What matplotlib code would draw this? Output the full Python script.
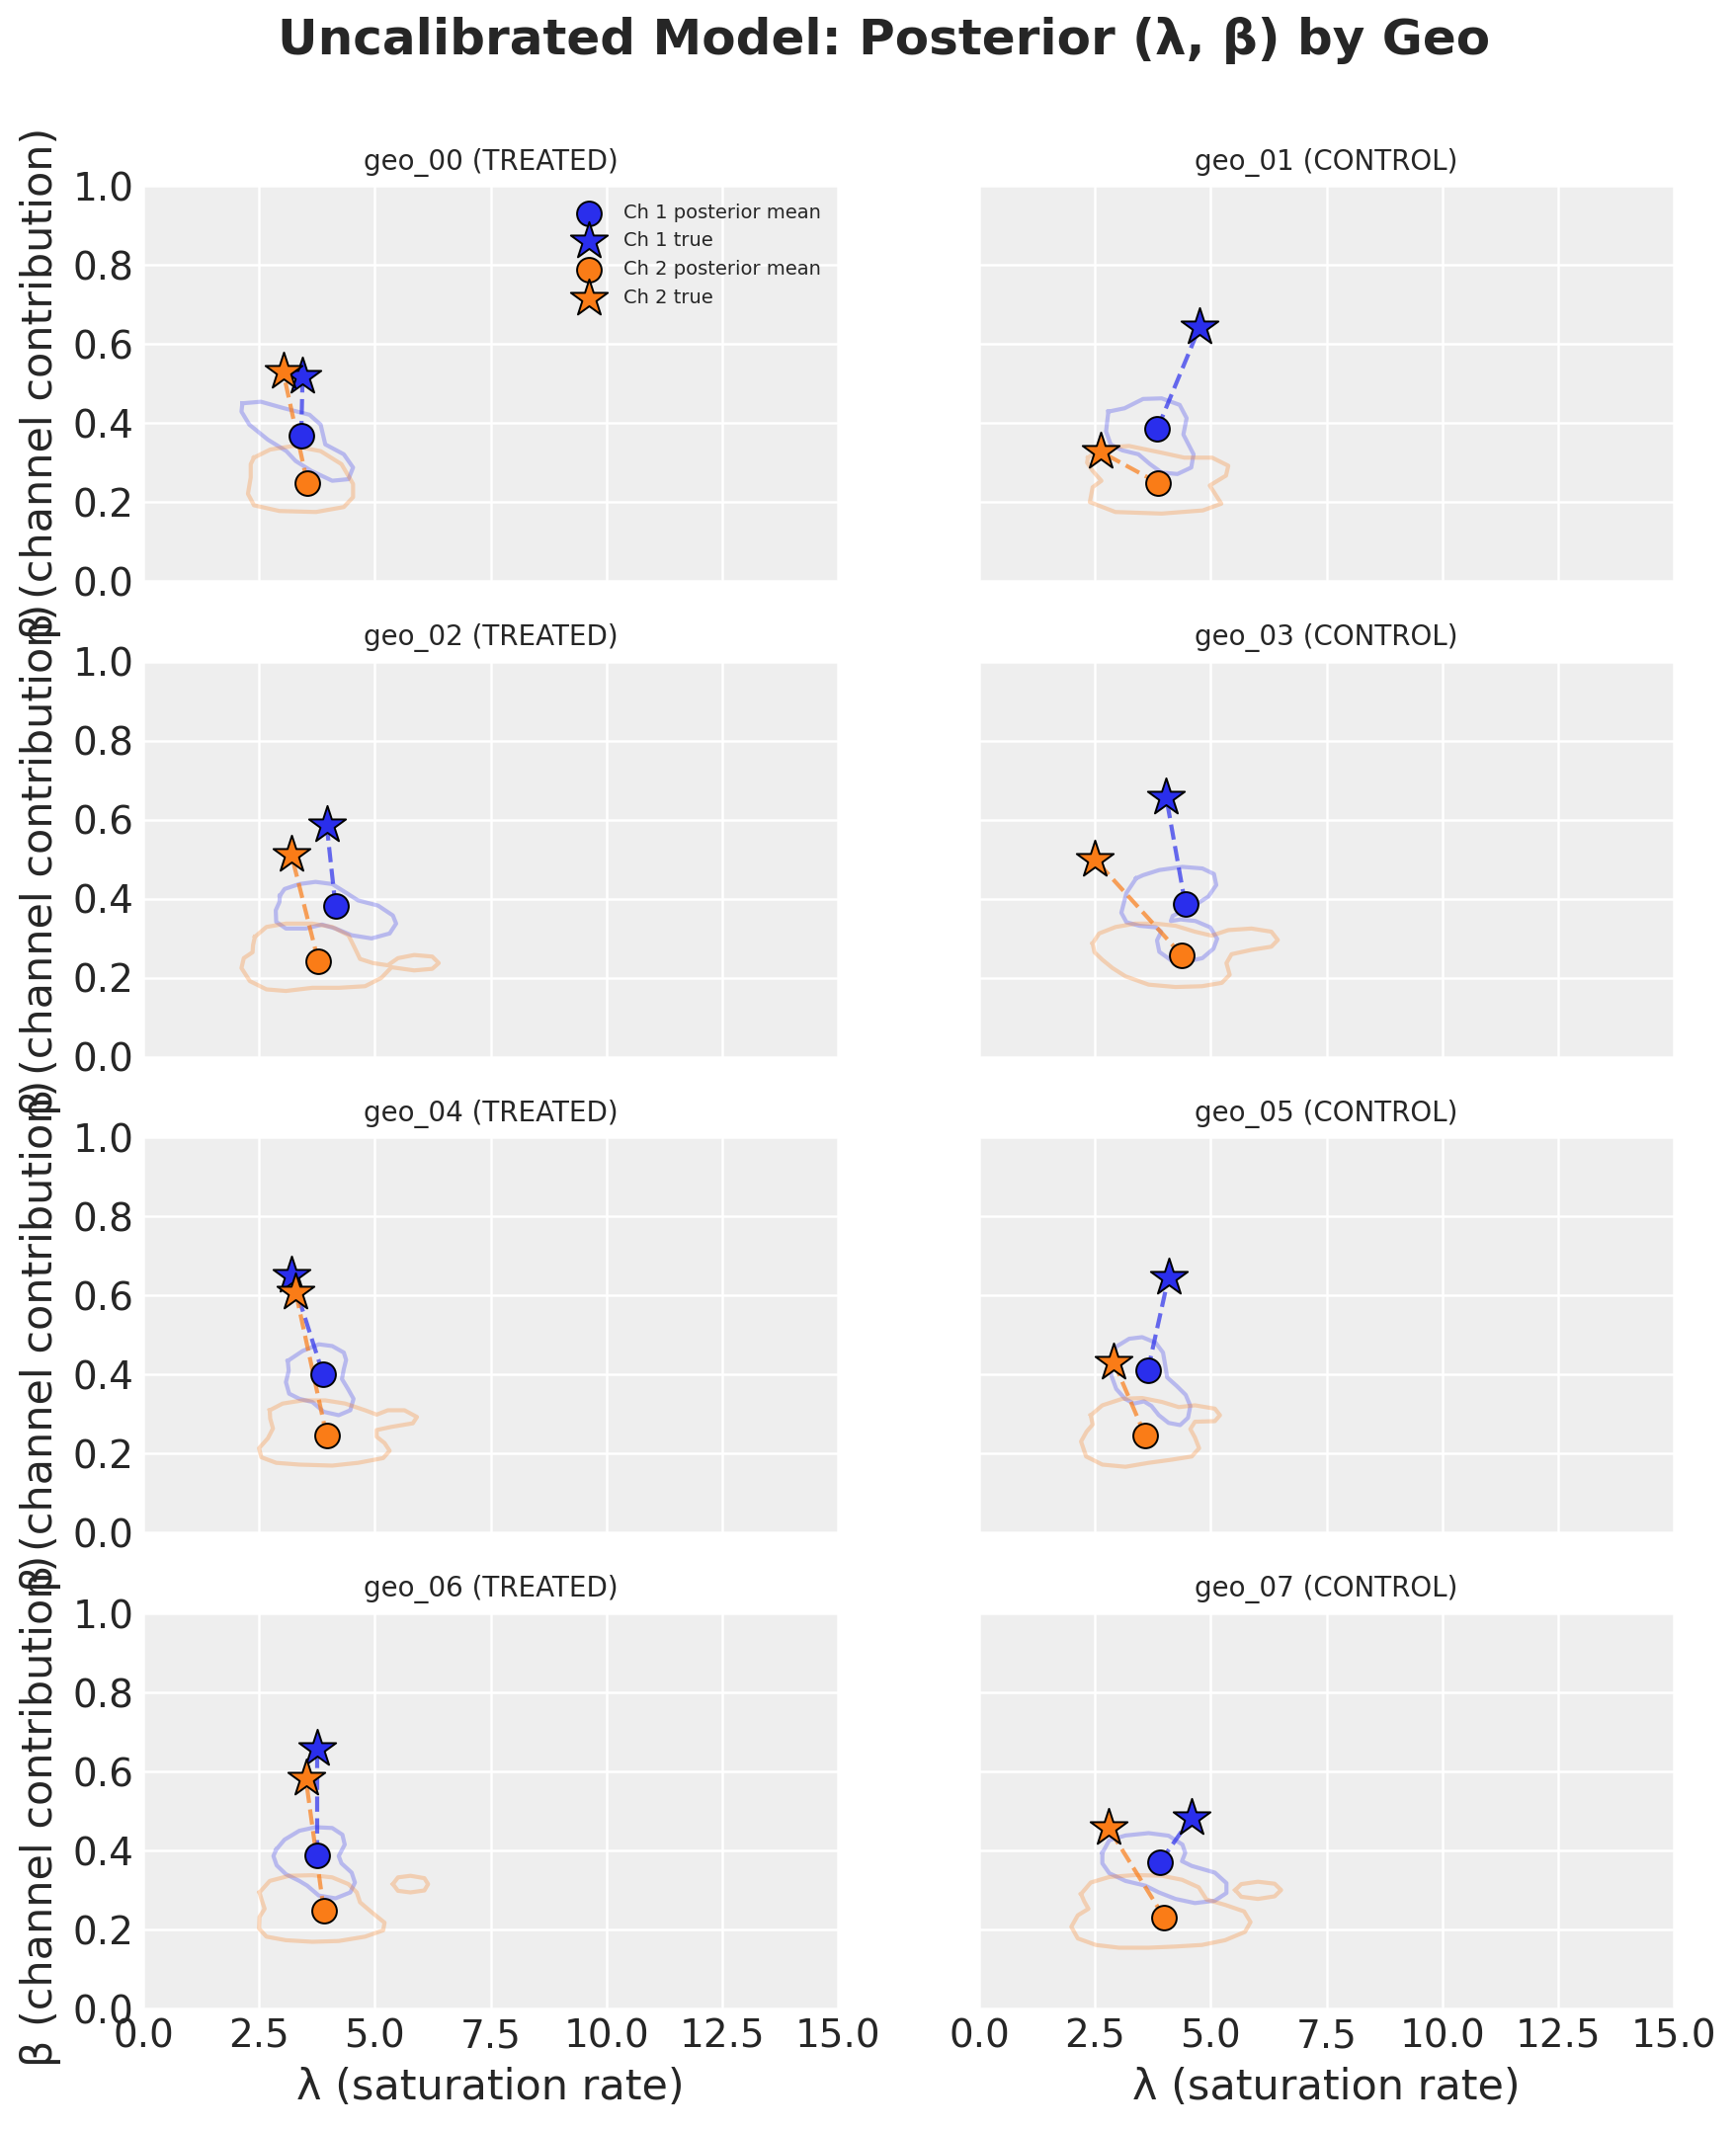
import matplotlib
matplotlib.use("Agg")
import matplotlib.pyplot as plt
import numpy as np

# ---------------- data ----------------
geo_names = ["geo_00", "geo_01", "geo_02", "geo_03", "geo_04", "geo_05", "geo_06", "geo_07"]
geo_groups = ["TREATED", "CONTROL", "TREATED", "CONTROL", "TREATED", "CONTROL", "TREATED", "CONTROL"]

ch1_mean_lam = [3.41, 3.85, 4.15, 4.45, 3.88, 3.64, 3.75, 3.91]
ch1_mean_beta = [0.367, 0.386, 0.383, 0.387, 0.402, 0.410, 0.387, 0.371]
ch1_true_lam = [3.44, 4.76, 3.96, 4.04, 3.20, 4.09, 3.75, 4.58]
ch1_true_beta = [0.517, 0.643, 0.587, 0.657, 0.651, 0.647, 0.658, 0.483]

ch2_mean_lam = [3.54, 3.87, 3.78, 4.38, 3.96, 3.59, 3.90, 4.00]
ch2_mean_beta = [0.249, 0.248, 0.242, 0.257, 0.245, 0.245, 0.247, 0.230]
ch2_true_lam = [3.02, 2.63, 3.20, 2.50, 3.29, 2.91, 3.51, 2.79]
ch2_true_beta = [0.530, 0.327, 0.511, 0.500, 0.609, 0.431, 0.582, 0.458]

# posterior density contour outlines (lambda, beta)
ch1_contours = [
    [[(2.14, 0.45), (2.54, 0.454), (3.04, 0.4375), (3.59, 0.421), (3.83, 0.396), (3.93, 0.346),
      (4.33, 0.321), (4.53, 0.2875), (4.43, 0.258), (4.08, 0.254), (3.63, 0.279), (3.29, 0.304),
      (3.09, 0.329), (2.69, 0.358), (2.29, 0.396), (2.12, 0.429)]],
    [[(2.79, 0.429), (3.14, 0.4375), (3.54, 0.461), (3.94, 0.4625), (4.33, 0.446), (4.48, 0.4125),
      (4.41, 0.371), (4.63, 0.321), (4.58, 0.2875), (4.28, 0.271), (3.94, 0.275), (3.69, 0.296),
      (3.44, 0.321), (3.09, 0.331), (2.84, 0.346), (2.74, 0.379)]],
    [[(2.95, 0.408), (3.05, 0.425), (3.37, 0.4375), (3.72, 0.443), (4.08, 0.4375), (4.36, 0.417),
      (4.64, 0.396), (5.07, 0.383), (5.39, 0.358), (5.46, 0.3375), (5.32, 0.3125), (4.93, 0.300),
      (4.50, 0.308), (4.15, 0.325), (3.86, 0.335), (3.51, 0.325), (3.08, 0.325), (2.87, 0.342),
      (2.86, 0.371), (2.94, 0.392)]],
    [[(3.39, 0.452), (3.18, 0.415), (3.07, 0.365), (3.18, 0.341), (3.46, 0.332), (3.82, 0.328),
      (3.93, 0.317), (3.84, 0.295), (3.89, 0.266), (4.14, 0.245), (4.46, 0.241), (4.82, 0.250),
      (5.06, 0.274), (5.14, 0.299), (4.99, 0.328), (4.67, 0.344), (4.35, 0.348), (4.14, 0.344),
      (4.18, 0.357), (4.46, 0.373), (4.74, 0.390), (4.95, 0.406), (5.12, 0.435), (5.07, 0.463),
      (4.82, 0.477), (4.39, 0.481), (3.89, 0.473), (3.54, 0.460)]],
    [[(3.12, 0.435), (3.44, 0.46), (3.79, 0.477), (4.08, 0.4725), (4.33, 0.456), (4.38, 0.4375),
      (4.33, 0.414), (4.29, 0.389), (4.42, 0.364), (4.54, 0.339), (4.47, 0.31), (4.22, 0.2975),
      (3.90, 0.306), (3.65, 0.331), (3.37, 0.339), (3.15, 0.352), (3.08, 0.381), (3.14, 0.41)]],
    [[(2.81, 0.4225), (2.96, 0.471), (3.24, 0.491), (3.52, 0.495), (3.81, 0.481), (3.97, 0.456),
      (4.02, 0.4225), (4.06, 0.393), (4.27, 0.371), (4.46, 0.349), (4.56, 0.321), (4.51, 0.291),
      (4.34, 0.2725), (4.09, 0.278), (3.88, 0.2975), (3.72, 0.321), (3.56, 0.3325), (3.34, 0.327),
      (3.15, 0.339), (2.96, 0.364), (2.86, 0.396)]],
    [[(2.87, 0.4025), (3.05, 0.4275), (3.37, 0.45), (3.72, 0.459), (4.08, 0.457), (4.30, 0.44),
      (4.35, 0.415), (4.22, 0.386), (4.28, 0.3675), (4.50, 0.344), (4.57, 0.319), (4.47, 0.294),
      (4.15, 0.279), (3.79, 0.286), (3.54, 0.311), (3.37, 0.323), (3.08, 0.34), (2.88, 0.3625),
      (2.81, 0.386)]],
    [[(2.66, 0.394), (2.81, 0.426), (3.16, 0.438), (3.66, 0.444), (4.09, 0.4375), (4.39, 0.415),
      (4.45, 0.394), (4.38, 0.373), (4.59, 0.361), (5.09, 0.344), (5.34, 0.3175), (5.34, 0.2925),
      (5.09, 0.273), (4.66, 0.267), (4.24, 0.2775), (3.88, 0.294), (3.59, 0.311), (3.16, 0.323),
      (2.81, 0.3425), (2.66, 0.3675)]],
]

ch2_contours = [
    [[(2.39, 0.3125), (2.74, 0.333), (3.24, 0.342), (3.83, 0.329), (4.28, 0.296), (4.53, 0.246),
      (4.53, 0.2125), (4.33, 0.1875), (3.73, 0.175), (2.94, 0.1775), (2.39, 0.192), (2.26, 0.221),
      (2.32, 0.2625), (2.32, 0.296)]],
    [[(2.35, 0.3125), (2.64, 0.3375), (3.24, 0.342), (3.94, 0.325), (4.43, 0.3125), (5.03, 0.3125),
      (5.38, 0.292), (5.33, 0.267), (4.98, 0.242), (5.23, 0.196), (4.83, 0.179), (3.94, 0.171),
      (2.94, 0.175), (2.39, 0.2), (2.45, 0.2375), (2.64, 0.254), (2.45, 0.279), (2.33, 0.300)]],
    [[(2.41, 0.304), (2.66, 0.329), (3.08, 0.3375), (3.65, 0.3375), (4.08, 0.329), (4.43, 0.308),
      (4.57, 0.275), (4.68, 0.248), (4.96, 0.2375), (5.28, 0.232), (5.50, 0.25), (5.85, 0.258),
      (6.24, 0.254), (6.38, 0.2375), (6.24, 0.223), (5.85, 0.219), (5.36, 0.227), (5.14, 0.2),
      (4.79, 0.179), (4.22, 0.175), (3.65, 0.175), (3.08, 0.167), (2.66, 0.171), (2.30, 0.192),
      (2.12, 0.225), (2.17, 0.25), (2.36, 0.265), (2.37, 0.283)]],
    [[(2.45, 0.2875), (2.59, 0.3125), (2.95, 0.329), (3.38, 0.3375), (3.81, 0.3375), (4.24, 0.332),
      (4.66, 0.317), (5.02, 0.307), (5.38, 0.321), (5.88, 0.325), (6.31, 0.317), (6.45, 0.296),
      (6.31, 0.279), (5.88, 0.271), (5.45, 0.26), (5.34, 0.2375), (5.41, 0.208), (5.24, 0.1875),
      (4.81, 0.179), (4.24, 0.177), (3.66, 0.183), (3.16, 0.204), (2.88, 0.225), (2.66, 0.246),
      (2.49, 0.265)]],
    [[(2.73, 0.31), (3.01, 0.327), (3.44, 0.335), (3.93, 0.335), (4.36, 0.327), (4.79, 0.31),
      (5.04, 0.299), (5.28, 0.31), (5.64, 0.31), (5.91, 0.293), (5.82, 0.277), (5.36, 0.268),
      (5.04, 0.26), (5.04, 0.243), (5.21, 0.227), (5.32, 0.2075), (5.18, 0.189), (4.64, 0.177),
      (4.08, 0.17), (3.37, 0.1725), (2.87, 0.177), (2.55, 0.191), (2.50, 0.214), (2.69, 0.239),
      (2.80, 0.264), (2.74, 0.289)]],
    [[(2.41, 0.2975), (2.66, 0.3225), (3.09, 0.339), (3.52, 0.341), (3.95, 0.331), (4.31, 0.318),
      (4.66, 0.3225), (5.09, 0.314), (5.2, 0.2975), (5.09, 0.2825), (4.66, 0.281), (4.56, 0.2625),
      (4.66, 0.241), (4.75, 0.214), (4.59, 0.193), (4.16, 0.185), (3.66, 0.177), (3.16, 0.167),
      (2.66, 0.1725), (2.31, 0.193), (2.2, 0.231), (2.32, 0.256), (2.45, 0.274)]],
    [[(2.51, 0.294), (2.73, 0.323), (3.15, 0.336), (3.65, 0.3375), (4.08, 0.332), (4.43, 0.315),
      (4.61, 0.294), (4.68, 0.269), (4.93, 0.244), (5.21, 0.2175), (5.18, 0.198), (4.79, 0.182),
      (4.22, 0.171), (3.65, 0.169), (3.08, 0.173), (2.66, 0.182), (2.50, 0.2025), (2.51, 0.232),
      (2.62, 0.2525), (2.55, 0.2775)],
     [(5.39, 0.315), (5.50, 0.332), (5.77, 0.336), (6.07, 0.33), (6.15, 0.315), (6.07, 0.299),
      (5.77, 0.294), (5.50, 0.298)]],
    [[(2.2, 0.29), (2.41, 0.319), (2.81, 0.333), (3.38, 0.338), (3.95, 0.336), (4.38, 0.326),
      (4.74, 0.307), (4.91, 0.276), (5.31, 0.2625), (5.72, 0.246), (5.86, 0.219), (5.74, 0.194),
      (5.31, 0.173), (4.81, 0.161), (4.24, 0.157), (3.66, 0.154), (3.02, 0.154), (2.52, 0.161),
      (2.13, 0.1775), (1.99, 0.207), (2.13, 0.236), (2.36, 0.2525), (2.27, 0.271)],
     [(5.53, 0.3), (5.66, 0.315), (6.02, 0.321), (6.38, 0.316), (6.52, 0.3), (6.38, 0.284),
      (6.02, 0.2775), (5.66, 0.283)]],
]

x_ticks = [0.0, 2.5, 5.0, 7.5, 10.0, 12.5, 15.0]
y_ticks = [0.0, 0.2, 0.4, 0.6, 0.8, 1.0]

# ---------------- style ----------------
C1 = "#2a2eec"
C2 = "#fa7c17"
TXT = "#262626"

plt.rcParams.update({
    "font.family": ["DejaVu Sans"],
    "axes.facecolor": "#eeeeee",
    "axes.edgecolor": "none",
    "axes.grid": True,
    "grid.color": "white",
    "grid.linewidth": 0.9,
    "grid.linestyle": "-",
    "axes.axisbelow": True,
    "xtick.major.size": 0,
    "ytick.major.size": 0,
    "xtick.labelsize": 14,
    "ytick.labelsize": 14,
    "axes.labelsize": 15.5,
    "text.color": TXT,
    "axes.labelcolor": TXT,
    "xtick.color": TXT,
    "ytick.color": TXT,
    "figure.facecolor": "white",
})

fig, axes = plt.subplots(4, 2, figsize=(8.79, 10.78), dpi=200, sharex=True, sharey=True)
fig.subplots_adjust(left=0.0825, right=0.9636, top=0.9127, bottom=0.057, wspace=0.2034, hspace=0.204)

def close(pts):
    arr = np.array(pts + [pts[0]])
    return arr[:, 0], arr[:, 1]

for i, ax in enumerate(axes.flat):
    for loop in ch1_contours[i]:
        xs, ys = close(loop)
        ax.plot(xs, ys, color=C1, alpha=0.28, lw=1.5, solid_joinstyle="round", zorder=1)
    for loop in ch2_contours[i]:
        xs, ys = close(loop)
        ax.plot(xs, ys, color=C2, alpha=0.28, lw=1.5, solid_joinstyle="round", zorder=1)

    ax.plot([ch1_mean_lam[i], ch1_true_lam[i]], [ch1_mean_beta[i], ch1_true_beta[i]],
            ls="--", color=C1, alpha=0.7, lw=1.5, zorder=2)
    ax.plot([ch2_mean_lam[i], ch2_true_lam[i]], [ch2_mean_beta[i], ch2_true_beta[i]],
            ls="--", color=C2, alpha=0.7, lw=1.5, zorder=2)

    ax.scatter([ch1_mean_lam[i]], [ch1_mean_beta[i]], s=80, marker="o", color=C1,
               edgecolor="black", linewidth=0.7, zorder=3, label="Ch 1 posterior mean")
    ax.scatter([ch1_true_lam[i]], [ch1_true_beta[i]], s=200, marker="*", color=C1,
               edgecolor="black", linewidth=0.7, zorder=4, label="Ch 1 true")
    ax.scatter([ch2_mean_lam[i]], [ch2_mean_beta[i]], s=80, marker="o", color=C2,
               edgecolor="black", linewidth=0.7, zorder=3, label="Ch 2 posterior mean")
    ax.scatter([ch2_true_lam[i]], [ch2_true_beta[i]], s=200, marker="*", color=C2,
               edgecolor="black", linewidth=0.7, zorder=4, label="Ch 2 true")

    ax.set_title(f"{geo_names[i]} ({geo_groups[i]})", fontsize=10, color=TXT)
    ax.set_xlim(0, 15)
    ax.set_ylim(0, 1)
    ax.set_xticks(x_ticks)
    ax.set_yticks(y_ticks)
    for sp in ax.spines.values():
        sp.set_visible(False)
    if i % 2 == 0:
        ax.set_ylabel("β (channel contribution)")
    if i >= 6:
        ax.set_xlabel("λ (saturation rate)")
    if i == 0:
        ax.legend(loc="upper right", fontsize=7, frameon=False)

fig.suptitle("Uncalibrated Model: Posterior (λ, β) by Geo", fontsize=18, fontweight="bold",
             x=0.509, y=0.981, va="center", color=TXT)

fig.savefig("out.png", dpi=200)
